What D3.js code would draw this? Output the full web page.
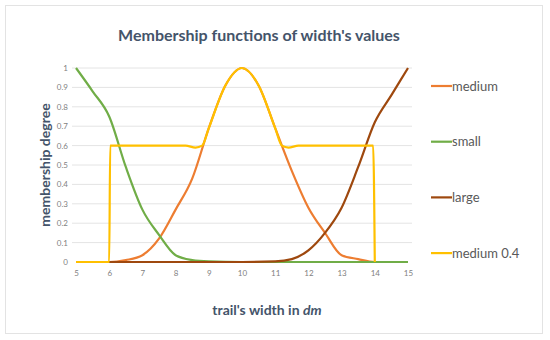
<!DOCTYPE html>
<html>
<head>
<meta charset="utf-8">
<script src="https://cdn.jsdelivr.net/npm/d3@7"></script>
<style>
  body { margin: 0; background: #fff; }
  text { font-family: Lato, "Noto Sans", sans-serif; }
</style>
</head>
<body>
<div id="graf"></div>
<script>
// Membership functions of width's values

// datos
xTicks = [5, 6, 7, 8, 9, 10, 11, 12, 13, 14, 15]
yTicks = [0, 0.1, 0.2, 0.3, 0.4, 0.5, 0.6, 0.7, 0.8, 0.9, 1]

mediumX = [5, 6, 6.5, 7, 7.5, 8, 8.5, 9, 9.5, 10, 10.5, 11, 11.5, 12, 12.5, 13, 13.5, 14, 15]
mediumY = [0, 0, 0.01, 0.035, 0.12, 0.27, 0.43, 0.69, 0.91, 1, 0.91, 0.69, 0.47, 0.28, 0.15, 0.035, 0.015, 0, 0]

smallX = [5, 5.5, 6, 6.5, 7, 7.5, 8, 8.5, 9, 10, 11, 12, 13, 14, 15]
smallY = [1, 0.88, 0.75, 0.49, 0.27, 0.14, 0.035, 0.01, 0.003, 0, 0, 0, 0, 0, 0]

largeX = [5, 6, 7, 8, 9, 10, 11, 11.5, 12, 12.5, 13, 13.5, 14, 14.5, 15]
largeY = [0, 0, 0, 0, 0, 0, 0.003, 0.015, 0.06, 0.15, 0.28, 0.49, 0.72, 0.86, 1]

medium04X = [5, 6, 6.03, 8.3, 8.6, 8.8, 9, 9.5, 10, 10.5, 11, 11.2, 11.4, 11.7, 13.95, 14]
medium04Y = [0, 0, 0.6, 0.6, 0.59, 0.6, 0.69, 0.91, 1, 0.91, 0.69, 0.6, 0.59, 0.6, 0.6, 0]

series = [
  { name: 'medium', xs: mediumX, ys: mediumY, color: '#ED7D31' },
  { name: 'small', xs: smallX, ys: smallY, color: '#70AD47' },
  { name: 'large', xs: largeX, ys: largeY, color: '#9E480E' },
  { name: 'medium 0.4', xs: medium04X, ys: medium04Y, color: '#FFC000' }
]

ancho_total = 550
alto_total = 340

svg = d3.select('#graf').append('svg')
        .attr('width', ancho_total)
        .attr('height', alto_total)

// borde del gráfico
svg.append('rect')
   .attr('x', 5.5).attr('y', 5.5)
   .attr('width', 537).attr('height', 328)
   .attr('fill', '#fff')
   .attr('stroke', '#e3e3e3')

x = d3.scaleLinear().domain([5, 15]).range([76, 408])
y = d3.scaleLinear().domain([0, 1]).range([262, 68])

// rejilla
svg.append('g')
   .selectAll('line')
   .data(yTicks.slice(1))
   .join('line')
   .attr('x1', 72).attr('x2', 412)
   .attr('y1', d => y(d)).attr('y2', d => y(d))
   .attr('stroke', '#e4e4e4')
   .attr('stroke-width', 1)

// ejes
yAxis = svg.append('g')
           .attr('transform', 'translate(72, 0)')
           .call(d3.axisLeft(y).tickValues(yTicks).tickSize(0).tickPadding(4).tickFormat(d3.format('~g')))
xAxis = svg.append('g')
           .attr('transform', 'translate(0, 266)')
           .call(d3.axisBottom(x).tickValues(xTicks).tickSize(0).tickPadding(4))
svg.selectAll('.domain').remove()
svg.selectAll('.tick text')
   .attr('fill', '#7f7f7f')
   .style('font-size', '8px')

// líneas (suavizadas sin sobrepasar)
lineaGen = d3.line()
             .x(d => x(d[0]))
             .y(d => y(d[1]))
             .curve(d3.curveMonotoneX)

svg.append('g')
   .selectAll('path')
   .data(series)
   .join('path')
   .attr('fill', 'none')
   .attr('stroke', d => d.color)
   .attr('stroke-width', 2.2)
   .attr('stroke-linejoin', 'round')
   .attr('d', d => lineaGen(d.xs.map((v, i) => [v, d.ys[i]])))

// leyenda
leyenda = svg.append('g')
             .selectAll('g')
             .data(series)
             .join('g')
             .attr('transform', (d, i) => `translate(431, ${ 86 + i * 55.7 })`)
leyenda.append('line')
       .attr('x1', 0).attr('x2', 21)
       .attr('stroke', d => d.color)
       .attr('stroke-width', 2.2)
leyenda.append('text')
       .attr('x', 21)
       .attr('dy', '0.35em')
       .attr('fill', '#595959')
       .style('font-size', '13px')
       .text(d => d.name)

// títulos
svg.append('text')
   .attr('x', 259).attr('y', 41)
   .attr('text-anchor', 'middle')
   .attr('fill', '#44546A')
   .style('font-size', '16px')
   .style('font-weight', 'bold')
   .text("Membership functions of width's values")

xTitle = svg.append('text')
            .attr('x', 267).attr('y', 315)
            .attr('text-anchor', 'middle')
            .attr('fill', '#44546A')
            .style('font-size', '14px')
            .style('font-weight', 'bold')
xTitle.append('tspan').text("trail's width in ")
xTitle.append('tspan').style('font-style', 'italic').text('dm')

svg.append('text')
   .attr('transform', 'translate(50, 165) rotate(-90)')
   .attr('text-anchor', 'middle')
   .attr('fill', '#44546A')
   .style('font-size', '14px')
   .style('font-weight', 'bold')
   .text('membership degree')
</script>
</body>
</html>
